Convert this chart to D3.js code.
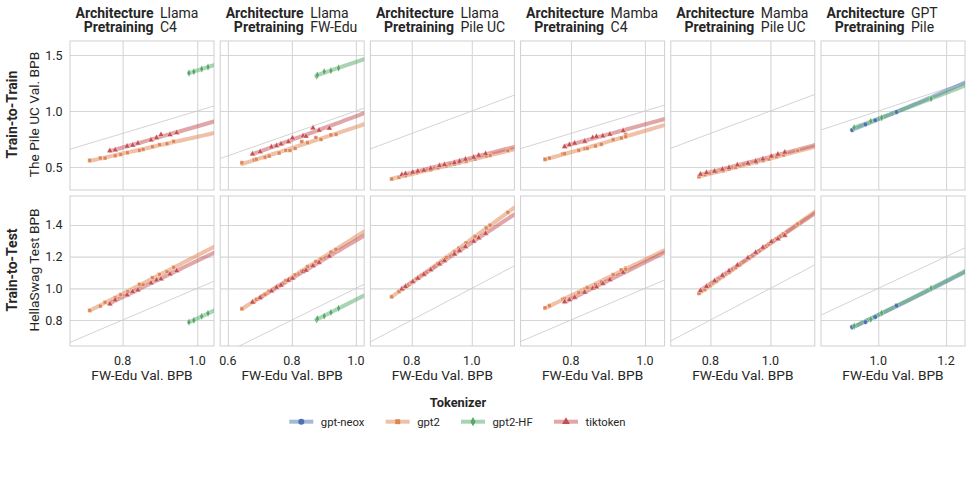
<!DOCTYPE html>
<html>
<head>
<meta charset="utf-8">
<script src="https://cdn.jsdelivr.net/npm/d3@7"></script>
<style>
  body { margin: 0; background: #fff; }
  svg { display: block; font-family: Roboto, "Noto Sans", sans-serif; }
</style>
</head>
<body>
<div id="chart"></div>
<script>
// facet labels and axes
const architectures = ['Llama', 'Llama', 'Llama', 'Mamba', 'Mamba', 'GPT'];
const pretraining = ['C4', 'FW-Edu', 'Pile UC', 'C4', 'Pile UC', 'Pile'];
const rowLabels = ['Train-to-Train', 'Train-to-Test'];
const rowTitles = ['The Pile UC Val. BPB', 'HellaSwag Test BPB'];
const xTitle = 'FW-Edu Val. BPB';
const tokenizers = ['gpt-neox', 'gpt2', 'gpt2-HF', 'tiktoken'];
const xTicks = [[0.8, 1.0], [0.6, 0.8, 1.0], [0.8, 1.0], [0.8, 1.0], [0.8, 1.0], [1.0, 1.2]];
const yTicks = [[0.5, 1.0, 1.5], [0.8, 1.0, 1.2, 1.4]];
const xDomains = [[0.659, 1.045], [0.576, 1.026], [0.662, 1.142], [0.664, 1.053], [0.668, 1.148], [0.831, 1.256]];
const yDomains = [[0.295, 1.625], [0.636, 1.583]];

// Llama / C4
const c1_gpt2_x = [0.712, 0.740, 0.753, 0.780, 0.795, 0.813, 0.845, 0.855, 0.880, 0.899, 0.919, 0.937];
const c1_gpt2_train = [0.560, 0.580, 0.580, 0.601, 0.613, 0.628, 0.649, 0.658, 0.681, 0.699, 0.708, 0.729];
const c1_gpt2_test = [0.861, 0.888, 0.912, 0.941, 0.960, 0.979, 1.025, 1.023, 1.067, 1.088, 1.105, 1.133];
const c1_tik_x = [0.766, 0.780, 0.812, 0.827, 0.841, 0.876, 0.891, 0.903, 0.927, 0.945];
const c1_tik_train = [0.646, 0.652, 0.685, 0.694, 0.712, 0.741, 0.762, 0.788, 0.788, 0.806];
const c1_tik_test = [0.901, 0.926, 0.958, 0.979, 0.989, 1.033, 1.052, 1.059, 1.090, 1.111];
const c1_hf_x = [0.978, 0.991, 1.012, 1.029];
const c1_hf_train = [1.339, 1.351, 1.375, 1.393];
const c1_hf_test = [0.787, 0.798, 0.823, 0.842];

// Llama / FW-Edu
const c2_gpt2_x = [0.644, 0.682, 0.689, 0.716, 0.729, 0.760, 0.781, 0.794, 0.810, 0.831, 0.849, 0.875, 0.891, 0.922, 0.938];
const c2_gpt2_train = [0.538, 0.563, 0.569, 0.587, 0.598, 0.625, 0.649, 0.649, 0.667, 0.726, 0.717, 0.762, 0.747, 0.786, 0.792];
const c2_gpt2_test = [0.871, 0.917, 0.930, 0.961, 0.982, 1.016, 1.048, 1.060, 1.085, 1.108, 1.136, 1.169, 1.185, 1.228, 1.246];
const c2_tik_x = [0.677, 0.701, 0.736, 0.752, 0.766, 0.789, 0.802, 0.835, 0.844, 0.866, 0.885, 0.917];
const c2_tik_train = [0.616, 0.637, 0.679, 0.690, 0.705, 0.726, 0.759, 0.777, 0.774, 0.848, 0.828, 0.846];
const c2_tik_test = [0.912, 0.941, 0.983, 1.006, 1.020, 1.051, 1.064, 1.106, 1.114, 1.142, 1.163, 1.203];
const c2_hf_x = [0.877, 0.880, 0.901, 0.922, 0.946];
const c2_hf_train = [1.313, 1.321, 1.351, 1.360, 1.384];
const c2_hf_test = [0.802, 0.808, 0.825, 0.848, 0.874];

// Llama / Pile UC
const c3_gpt2_x = [0.733, 0.757, 0.778, 0.798, 0.815, 0.833, 0.862, 0.887, 0.915, 0.942, 0.957, 0.981, 1.011, 1.048, 1.061, 1.120];
const c3_gpt2_train = [0.393, 0.408, 0.422, 0.440, 0.449, 0.463, 0.476, 0.494, 0.509, 0.527, 0.538, 0.551, 0.571, 0.598, 0.604, 0.646];
const c3_gpt2_test = [0.947, 0.980, 1.009, 1.036, 1.060, 1.083, 1.115, 1.155, 1.195, 1.232, 1.254, 1.287, 1.327, 1.381, 1.399, 1.480];
const c3_tik_x = [0.767, 0.779, 0.803, 0.820, 0.840, 0.863, 0.892, 0.909, 0.942, 0.959, 0.979, 1.006, 1.023, 1.046];
const c3_tik_train = [0.431, 0.440, 0.453, 0.462, 0.471, 0.488, 0.512, 0.521, 0.538, 0.551, 0.569, 0.587, 0.604, 0.619];
const c3_tik_test = [0.996, 1.011, 1.041, 1.063, 1.088, 1.117, 1.153, 1.175, 1.216, 1.238, 1.263, 1.297, 1.318, 1.347];

// Mamba / C4
const c4_gpt2_x = [0.730, 0.742, 0.778, 0.783, 0.821, 0.838, 0.844, 0.866, 0.882, 0.914, 0.936, 0.948, 0.948];
const c4_gpt2_train = [0.569, 0.580, 0.616, 0.619, 0.649, 0.664, 0.667, 0.688, 0.703, 0.744, 0.759, 0.788, 0.771];
const c4_gpt2_test = [0.877, 0.890, 0.931, 0.934, 0.972, 0.995, 1.004, 1.025, 1.040, 1.086, 1.116, 1.128, 1.120];
const c4_tik_x = [0.783, 0.796, 0.810, 0.837, 0.859, 0.869, 0.886, 0.905, 0.941];
const c4_tik_train = [0.681, 0.699, 0.712, 0.729, 0.762, 0.771, 0.777, 0.792, 0.824];
const c4_tik_test = [0.915, 0.928, 0.943, 0.975, 1.000, 1.008, 1.030, 1.055, 1.100];

// Mamba / Pile UC
const c5_gpt2_x = [0.762, 0.781, 0.798, 0.820, 0.842, 0.862, 0.884, 0.898, 0.929, 0.953, 0.975, 0.995, 1.020, 1.044, 1.091];
const c5_gpt2_train = [0.413, 0.431, 0.444, 0.455, 0.467, 0.482, 0.497, 0.509, 0.527, 0.539, 0.557, 0.571, 0.592, 0.607, 0.646];
const c5_gpt2_test = [0.968, 0.993, 1.016, 1.045, 1.075, 1.101, 1.131, 1.149, 1.190, 1.222, 1.252, 1.279, 1.312, 1.344, 1.406];
const c5_tik_x = [0.767, 0.787, 0.814, 0.840, 0.862, 0.890, 0.925, 0.951, 0.975, 1.003, 1.025, 1.048];
const c5_tik_train = [0.435, 0.449, 0.462, 0.480, 0.494, 0.518, 0.533, 0.551, 0.571, 0.596, 0.613, 0.631];
const c5_tik_test = [0.985, 1.011, 1.047, 1.081, 1.110, 1.146, 1.192, 1.226, 1.258, 1.294, 1.312, 1.334];

// GPT / Pile
const c6_neox_x = [0.923, 0.962, 0.991, 1.054];
const c6_neox_train = [0.830, 0.881, 0.917, 0.991];
const c6_neox_test = [0.756, 0.787, 0.819, 0.890];
const c6_hf_x = [0.929, 0.978, 1.010, 1.156];
const c6_hf_train = [0.851, 0.908, 0.940, 1.110];
const c6_hf_test = [0.762, 0.804, 0.844, 1.000];

const series = [
  {col: 0, tok: 'gpt2', x: c1_gpt2_x, ys: [c1_gpt2_train, c1_gpt2_test]},
  {col: 0, tok: 'tiktoken', x: c1_tik_x, ys: [c1_tik_train, c1_tik_test]},
  {col: 0, tok: 'gpt2-HF', x: c1_hf_x, ys: [c1_hf_train, c1_hf_test]},
  {col: 1, tok: 'gpt2', x: c2_gpt2_x, ys: [c2_gpt2_train, c2_gpt2_test]},
  {col: 1, tok: 'tiktoken', x: c2_tik_x, ys: [c2_tik_train, c2_tik_test]},
  {col: 1, tok: 'gpt2-HF', x: c2_hf_x, ys: [c2_hf_train, c2_hf_test]},
  {col: 2, tok: 'gpt2', x: c3_gpt2_x, ys: [c3_gpt2_train, c3_gpt2_test]},
  {col: 2, tok: 'tiktoken', x: c3_tik_x, ys: [c3_tik_train, c3_tik_test]},
  {col: 3, tok: 'gpt2', x: c4_gpt2_x, ys: [c4_gpt2_train, c4_gpt2_test]},
  {col: 3, tok: 'tiktoken', x: c4_tik_x, ys: [c4_tik_train, c4_tik_test]},
  {col: 4, tok: 'gpt2', x: c5_gpt2_x, ys: [c5_gpt2_train, c5_gpt2_test]},
  {col: 4, tok: 'tiktoken', x: c5_tik_x, ys: [c5_tik_train, c5_tik_test]},
  {col: 5, tok: 'gpt-neox', x: c6_neox_x, ys: [c6_neox_train, c6_neox_test]},
  {col: 5, tok: 'gpt2-HF', x: c6_hf_x, ys: [c6_hf_train, c6_hf_test]}
];

// layout
const width = 972, height = 494;
const panelLeft0 = 70, panelStep = 150.2, panelW = 144;
const rowTop = [41, 196], rowH = [149, 150];
const textColor = '#262626', gridColor = '#d6d6d6';

const color = d3.scaleOrdinal().domain(tokenizers)
  .range(['#4c72b0', '#dd8452', '#55a868', '#c44e52']);

// thin diamond like matplotlib's 'd' marker
const thinDiamond = {
  draw(ctx, size) {
    const s = Math.sqrt(size);
    ctx.moveTo(0, -s * 0.75);
    ctx.lineTo(s * 0.42, 0);
    ctx.lineTo(0, s * 0.75);
    ctx.lineTo(-s * 0.42, 0);
    ctx.closePath();
  }
};
const shape = d3.scaleOrdinal().domain(tokenizers)
  .range([d3.symbolCircle, d3.symbolSquare, thinDiamond, d3.symbolTriangle]);
const shapeSize = d3.scaleOrdinal().domain(tokenizers).range([18, 15, 24, 16]);

// power law fit in log-log space
function powerFit(xs, ys) {
  const lx = xs.map(Math.log), ly = ys.map(Math.log);
  const mx = d3.mean(lx), my = d3.mean(ly);
  let sxy = 0, sxx = 0;
  for (let i = 0; i < lx.length; ++i) {
    sxy += (lx[i] - mx) * (ly[i] - my);
    sxx += (lx[i] - mx) * (lx[i] - mx);
  }
  const b = sxy / sxx, a = my - b * mx;
  return x => Math.exp(a + b * Math.log(x));
}

const svg = d3.select('#chart').append('svg')
  .attr('width', width).attr('height', height);
const defs = svg.append('defs');

for (let c = 0; c < architectures.length; ++c) {
  const left = panelLeft0 + c * panelStep;
  const x = d3.scaleLinear().domain(xDomains[c]).range([left, left + panelW]);

  // strip label
  const strip = svg.append('g').attr('font-size', 14).attr('fill', textColor);
  const split = left + 83.5;
  [['Architecture', architectures[c], 17.5], ['Pretraining', pretraining[c], 32]].forEach(([k, v, yy]) => {
    strip.append('text').attr('x', split).attr('y', yy).attr('text-anchor', 'end')
      .attr('font-weight', 'bold').text(k);
    strip.append('text').attr('x', split + 6.5).attr('y', yy).text(v);
  });

  for (let r = 0; r < 2; ++r) {
    const top = rowTop[r], h = rowH[r];
    const y = d3.scaleLinear().domain(yDomains[r]).range([top + h, top]);
    const g = svg.append('g');
    const clipId = 'clip' + c + '_' + r;
    defs.append('clipPath').attr('id', clipId)
      .append('rect').attr('x', left).attr('y', top).attr('width', panelW).attr('height', h);

    // grid
    g.append('g').call(d3.axisBottom(x).tickValues(xTicks[c]).tickSize(-h).tickFormat(''))
      .attr('transform', 'translate(0,' + (top + h) + ')')
      .call(a => a.select('.domain').remove())
      .call(a => a.selectAll('line').attr('stroke', gridColor).attr('stroke-width', 1.1));
    g.append('g').call(d3.axisLeft(y).tickValues(yTicks[r]).tickSize(-panelW).tickFormat(''))
      .attr('transform', 'translate(' + left + ',0)')
      .call(a => a.select('.domain').remove())
      .call(a => a.selectAll('line').attr('stroke', gridColor).attr('stroke-width', 1.1));
    g.append('rect').attr('x', left).attr('y', top).attr('width', panelW).attr('height', h)
      .attr('fill', 'none').attr('stroke', '#cfcfcf').attr('stroke-width', 1);

    const inner = g.append('g').attr('clip-path', 'url(#' + clipId + ')');

    // y = x reference line
    const lo = Math.min(xDomains[c][0], yDomains[r][0]);
    const hi = Math.max(xDomains[c][1], yDomains[r][1]);
    inner.append('line')
      .attr('x1', x(lo)).attr('y1', y(lo)).attr('x2', x(hi)).attr('y2', y(hi))
      .attr('stroke', '#c8c8c8').attr('stroke-width', 0.8);

    const here = series.filter(s => s.col === c);

    // fitted curves
    here.forEach(s => {
      const f = powerFit(s.x, s.ys[r]);
      const x0 = d3.min(s.x), x1 = xDomains[c][1];
      const xs = d3.range(0, 41).map(i => x0 + (x1 - x0) * i / 40);
      inner.append('path')
        .datum(xs)
        .attr('d', d3.line().x(d => x(d)).y(d => y(f(d))))
        .attr('fill', 'none')
        .attr('stroke', color(s.tok))
        .attr('stroke-opacity', 0.5)
        .attr('stroke-width', 4)
        .attr('stroke-linecap', 'round');
    });

    // points
    here.forEach(s => {
      inner.append('g').selectAll('path')
        .data(s.x.map((xv, i) => [xv, s.ys[r][i]]))
        .enter().append('path')
        .attr('transform', d => 'translate(' + x(d[0]) + ',' + y(d[1]) + ')')
        .attr('d', d3.symbol().type(shape(s.tok)).size(shapeSize(s.tok)))
        .attr('fill', color(s.tok))
        .attr('stroke', '#fff')
        .attr('stroke-width', 0.4);
    });

    // y tick labels on first column only
    if (c === 0) {
      g.append('g').selectAll('text')
        .data(yTicks[r]).enter().append('text')
        .attr('x', left - 7.5).attr('y', d => y(d)).attr('dy', '0.36em')
        .attr('text-anchor', 'end').attr('font-size', 12.5).attr('fill', textColor)
        .text(d3.format('.1f'));
    }
  }

  // x tick labels and title under bottom row
  const xb = rowTop[1] + rowH[1];
  svg.append('g').selectAll('text')
    .data(xTicks[c]).enter().append('text')
    .attr('x', d => x(d)).attr('y', xb + 19)
    .attr('text-anchor', 'middle').attr('font-size', 12.5).attr('fill', textColor)
    .text(d3.format('.1f'));
  svg.append('text')
    .attr('x', left + panelW / 2).attr('y', xb + 33.5)
    .attr('text-anchor', 'middle').attr('font-size', 13.7).attr('fill', textColor)
    .text(xTitle);
}

// row labels
for (let r = 0; r < 2; ++r) {
  const cy = rowTop[r] + rowH[r] / 2 - 1;
  svg.append('text')
    .attr('transform', 'translate(17,' + cy + ') rotate(-90)')
    .attr('text-anchor', 'middle').attr('font-size', 14).attr('font-weight', 'bold')
    .attr('fill', textColor).text(rowLabels[r]);
  svg.append('text')
    .attr('transform', 'translate(38.5,' + cy + ') rotate(-90)')
    .attr('text-anchor', 'middle').attr('font-size', 13.7)
    .attr('fill', textColor).text(rowTitles[r]);
}

// legend
const legend = svg.append('g').attr('fill', textColor);
legend.append('text')
  .attr('x', 458).attr('y', 407.3).attr('text-anchor', 'middle')
  .attr('font-size', 12.8).attr('font-weight', 'bold').text('Tokenizer');
const legendX = [289.3, 385.7, 461, 554];
tokenizers.forEach((t, i) => {
  const lx = legendX[i], ly = 421.7;
  legend.append('line')
    .attr('x1', lx).attr('x2', lx + 24).attr('y1', ly).attr('y2', ly)
    .attr('stroke', color(t)).attr('stroke-opacity', 0.5).attr('stroke-width', 4);
  legend.append('path')
    .attr('transform', 'translate(' + (lx + 12) + ',' + ly + ')')
    .attr('d', d3.symbol().type(shape(t)).size(shapeSize(t) * 1.6))
    .attr('fill', color(t));
  legend.append('text')
    .attr('x', lx + 31.5).attr('y', ly).attr('dy', '0.36em')
    .attr('font-size', 11.3).text(t);
});
</script>
</body>
</html>
